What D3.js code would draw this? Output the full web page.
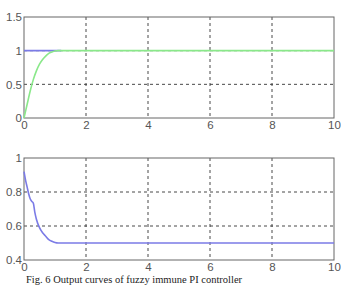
<!DOCTYPE html>
<html>
<head>
<meta charset="utf-8">
<script src="https://cdn.jsdelivr.net/npm/d3@7"></script>
<style>
  body { margin: 0; background: #fff; }
  svg { display: block; }
  .tick text { font-family: "Liberation Sans", Arial, sans-serif; font-size: 11.5px; fill: #555; }
  .grid line { stroke: #333; stroke-dasharray: 3,3; stroke-width: 0.9; }
</style>
</head>
<body>
<svg width="341" height="285"></svg>
<script>
const xTicks = [0, 2, 4, 6, 8, 10]
const topYTicks = [0, 0.5, 1, 1.5]
const botYTicks = [0.4, 0.6, 0.8, 1]

// top plot: reference (blue) and response (green)
const topRef = [[0, 1], [1.2, 1]]
const topT = [0, 0.1, 0.2, 0.3, 0.4, 0.5, 0.6, 0.7, 0.8, 0.9, 1.0, 1.1, 10]
const topY = [0, 0.2, 0.4, 0.57, 0.7, 0.8, 0.87, 0.92, 0.96, 0.98, 0.995, 1.0, 1.0]

// bottom plot
const botT = [0, 0.05, 0.1, 0.15, 0.2, 0.25, 0.3, 0.35, 0.4, 0.5, 0.6, 0.7, 0.8, 0.9, 1.0, 1.1, 10]
const botY = [0.92, 0.87, 0.83, 0.79, 0.76, 0.745, 0.735, 0.68, 0.64, 0.59, 0.56, 0.54, 0.52, 0.51, 0.503, 0.5, 0.5]

const svg = d3.select("svg")

const x = d3.scaleLinear().domain([0, 10]).range([24, 334])

function panel(top, bottom, yDomain, yTicks, fmt) {
  const y = d3.scaleLinear().domain(yDomain).range([bottom, top])
  const g = svg.append("g")

  // grid
  g.append("g").attr("class", "grid")
    .selectAll("line").data(xTicks.slice(1, -1)).enter().append("line")
    .attr("x1", d => x(d)).attr("x2", d => x(d))
    .attr("y1", top).attr("y2", bottom)
  g.append("g").attr("class", "grid")
    .selectAll("line").data(yTicks.slice(1, -1)).enter().append("line")
    .attr("x1", x(0)).attr("x2", x(10))
    .attr("y1", d => y(d)).attr("y2", d => y(d))

  // box
  g.append("rect")
    .attr("x", x(0)).attr("y", top)
    .attr("width", x(10) - x(0)).attr("height", bottom - top)
    .attr("fill", "none").attr("stroke", "#666").attr("stroke-width", 1)

  const xa = g.append("g").attr("transform", `translate(0,${bottom})`)
    .call(d3.axisBottom(x).tickValues(xTicks).tickSize(0).tickPadding(3))
  xa.select(".domain").remove()

  const ya = g.append("g").attr("transform", `translate(${x(0)},0)`)
    .call(d3.axisLeft(y).tickValues(yTicks).tickFormat(fmt).tickSize(0).tickPadding(2))
  ya.select(".domain").remove()

  return y
}

const yTop = panel(17, 118, [0, 1.5], topYTicks, d3.format("~g"))
const yBot = panel(158, 260, [0.4, 1], botYTicks, d3.format("~g"))

const lineTop = d3.line().x(d => x(d[0])).y(d => yTop(d[1])).curve(d3.curveMonotoneX)
const lineBot = d3.line().x(d => x(d[0])).y(d => yBot(d[1])).curve(d3.curveMonotoneX)

svg.append("path")
  .datum(topRef)
  .attr("d", lineTop)
  .attr("fill", "none").attr("stroke", "#7b7be6").attr("stroke-width", 1.6)

svg.append("path")
  .datum(topT.map((t, i) => [t, topY[i]]))
  .attr("d", lineTop)
  .attr("fill", "none").attr("stroke", "#8ae88a").attr("stroke-width", 1.6)

svg.append("path")
  .datum(botT.map((t, i) => [t, botY[i]]))
  .attr("d", lineBot)
  .attr("fill", "none").attr("stroke", "#7b7be6").attr("stroke-width", 1.6)

// caption kept fully inside the picture
svg.append("text")
  .attr("x", 26).attr("y", 283)
  .style("font-family", "'Liberation Serif', 'Times New Roman', serif")
  .style("font-size", "10.5px")
  .style("fill", "#222")
  .text("Fig. 6 Output curves of fuzzy immune PI controller")
</script>
</body>
</html>
